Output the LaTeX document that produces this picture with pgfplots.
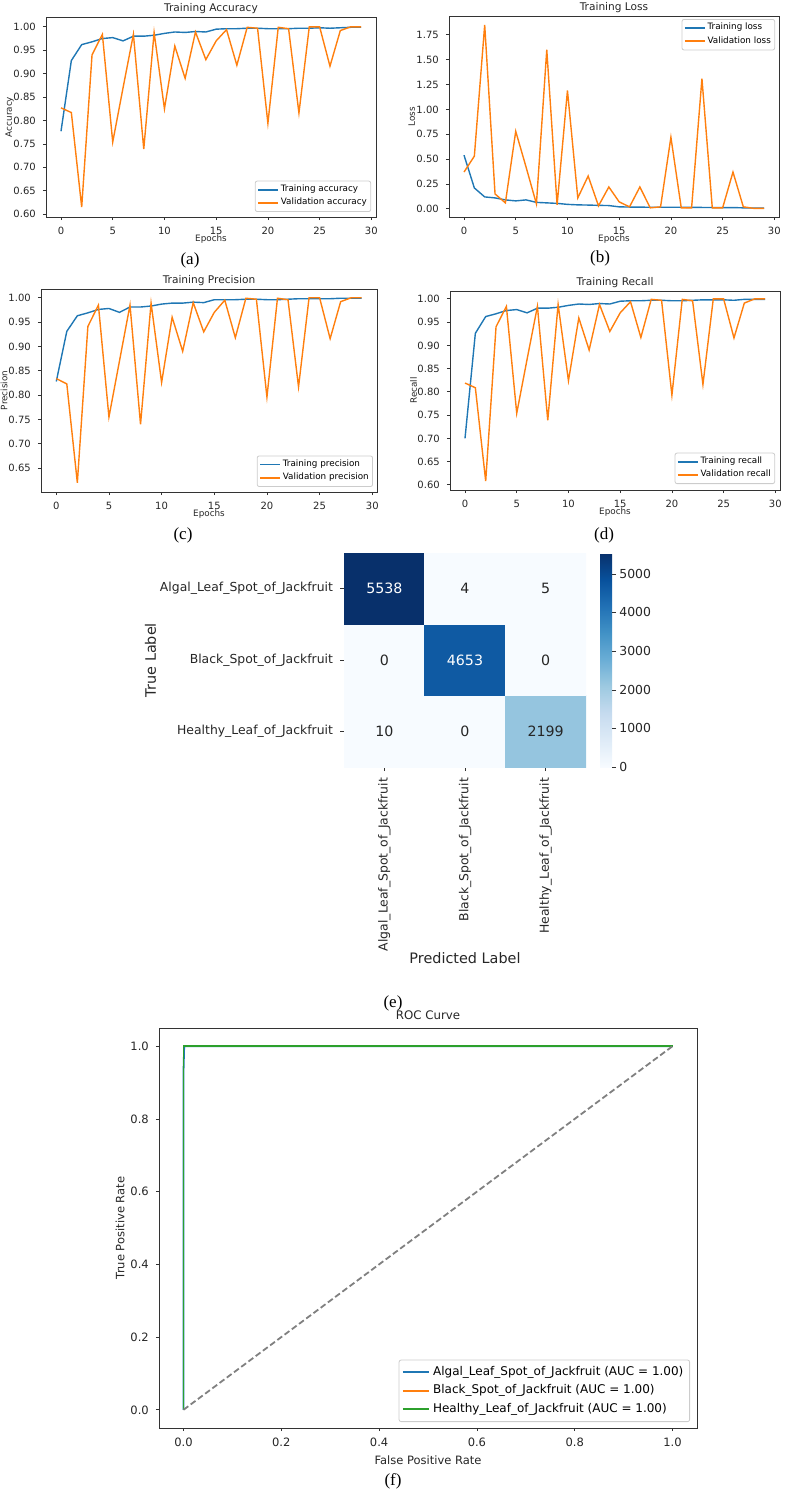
\documentclass[border=0pt]{standalone}
\usepackage{fontspec}
\setmainfont{DejaVu Sans}
\newfontfamily\capfont{Liberation Serif}
\usepackage{pgfplots}
\pgfplotsset{compat=1.18}
\definecolor{mplblue}{HTML}{1F77B4}
\definecolor{mplorange}{HTML}{FF7F0E}
\definecolor{mplgreen}{HTML}{2CA02C}
\definecolor{txt}{HTML}{262626}
\pgfplotsset{
  mpl/.style={scale only axis, clip mode=individual, axis line style={black!80,line width=0.4pt},
    tick style={black!80,line width=0.4pt}, tick align=outside, major tick length=1.6pt,
    xtick pos=left, ytick pos=left, tick label style={text=txt}, label style={text=txt},
    /pgf/number format/assume math mode=true, legend cell align=left},
  sp/.style={mpl, width=165pt, height=100pt, xmin=-1.45, xmax=30.45, xtick={0,5,10,15,20,25,30},
    tick label style={font=\fontsize{5.0}{6}\selectfont},
    label style={font=\fontsize{4.4}{5}\selectfont},
    xlabel style={at={(axis description cs:0.5,0)}, anchor=center, yshift=-11pt},
    ylabel style={at={(axis description cs:-0.11,0.5)}, anchor=center},
    yticklabel style={/pgf/number format/fixed,/pgf/number format/fixed zerofill,/pgf/number format/precision=2},
    legend style={font=\fontsize{4.4}{5}\selectfont, draw=black!20, rounded corners=1pt, inner sep=1pt, row sep=0pt,
      nodes={inner sep=0.9pt}},
    legend image code/.code={\draw[##1, line width=0.9pt] (0pt,0pt) -- (10pt,0pt);},
    every axis plot/.append style={line width=0.7pt}},
}
\newcommand{\sptitle}[1]{\node[font=\fontsize{5.3}{6}\selectfont, text=txt, anchor=center, yshift=4pt] at (rel axis cs:0.5,1) {#1};}
\begin{document}
\begin{tikzpicture}
\useasboundingbox (0,0) rectangle (392pt,-745.5pt);
% (a)
\begin{axis}[sp, at={(23pt,-108.5pt)}, anchor=south west, ymin=0.594, ymax=1.021,
  ytick={0.60,0.65,0.70,0.75,0.80,0.85,0.90,0.95,1.00},
  xlabel={Epochs}, ylabel={Accuracy},
  legend style={at={(0.985,0.025)}, anchor=south east}]
\addplot[mplblue] coordinates {(0,0.777)(1,0.928)(2,0.962)(3,0.968)(4,0.975)(5,0.977)(6,0.970)(7,0.980)(8,0.980)(9,0.982)(10,0.986)(11,0.989)(12,0.988)(13,0.990)(14,0.989)(15,0.995)(16,0.996)(17,0.996)(18,0.997)(19,0.997)(20,0.996)(21,0.996)(22,0.996)(23,0.997)(24,0.997)(25,0.998)(26,0.997)(27,0.998)(28,0.999)(29,0.999)};
\addlegendentry{Training accuracy}
\addplot[mplorange] coordinates {(0,0.827)(1,0.817)(2,0.615)(3,0.940)(4,0.984)(5,0.754)(6,0.870)(7,0.984)(8,0.739)(9,0.988)(10,0.825)(11,0.959)(12,0.890)(13,0.989)(14,0.930)(15,0.970)(16,0.994)(17,0.918)(18,0.999)(19,0.997)(20,0.794)(21,0.999)(22,0.996)(23,0.816)(24,1.000)(25,1.000)(26,0.916)(27,0.992)(28,1.000)(29,1.000)};
\addlegendentry{Validation accuracy}
\sptitle{Training Accuracy}
\end{axis}
% (b)
\begin{axis}[sp, at={(224.5pt,-108.5pt)}, anchor=south west, height=100.5pt, ymin=-0.082, ymax=1.94,
  ytick={0,0.25,0.5,0.75,1,1.25,1.5,1.75},
  xlabel={Epochs}, ylabel={Loss},
  ylabel style={at={(axis description cs:-0.113,0.5)}},
  legend style={at={(0.988,0.985)}, anchor=north east}]
\addplot[mplblue] coordinates {(0,0.54)(1,0.21)(2,0.12)(3,0.11)(4,0.09)(5,0.08)(6,0.09)(7,0.065)(8,0.06)(9,0.055)(10,0.045)(11,0.04)(12,0.038)(13,0.035)(14,0.033)(15,0.02)(16,0.018)(17,0.017)(18,0.016)(19,0.016)(20,0.016)(21,0.016)(22,0.015)(23,0.014)(24,0.013)(25,0.012)(26,0.013)(27,0.01)(28,0.008)(29,0.007)};
\addlegendentry{Training loss}
\addplot[mplorange] coordinates {(0,0.37)(1,0.53)(2,1.85)(3,0.15)(4,0.06)(5,0.78)(6,0.42)(7,0.05)(8,1.60)(9,0.04)(10,1.19)(11,0.11)(12,0.33)(13,0.03)(14,0.22)(15,0.07)(16,0.02)(17,0.22)(18,0.01)(19,0.02)(20,0.72)(21,0.01)(22,0.01)(23,1.31)(24,0.01)(25,0.01)(26,0.37)(27,0.02)(28,0.005)(29,0.005)};
\addlegendentry{Validation loss}
\sptitle{Training Loss}
\end{axis}
% (c)
\begin{axis}[sp, at={(20.5pt,-246pt)}, anchor=south west, width=168pt, height=101.5pt, ymin=0.601, ymax=1.018,
  ytick={0.65,0.70,0.75,0.80,0.85,0.90,0.95,1.00},
  xlabel={Epochs}, ylabel={Precision},
  legend style={at={(0.988,0.025)}, anchor=south east}]
\addplot[mplblue] coordinates {(0,0.828)(1,0.931)(2,0.963)(3,0.969)(4,0.976)(5,0.978)(6,0.970)(7,0.981)(8,0.981)(9,0.983)(10,0.987)(11,0.989)(12,0.989)(13,0.991)(14,0.990)(15,0.996)(16,0.996)(17,0.996)(18,0.997)(19,0.997)(20,0.996)(21,0.996)(22,0.997)(23,0.998)(24,0.998)(25,0.998)(26,0.998)(27,0.999)(28,0.999)(29,0.999)};
\addlegendentry{Training precision}
\addplot[mplorange] coordinates {(0,0.834)(1,0.823)(2,0.620)(3,0.941)(4,0.985)(5,0.755)(6,0.870)(7,0.985)(8,0.740)(9,0.989)(10,0.826)(11,0.960)(12,0.890)(13,0.990)(14,0.930)(15,0.970)(16,0.995)(17,0.918)(18,0.999)(19,0.997)(20,0.796)(21,0.999)(22,0.996)(23,0.817)(24,1.000)(25,1.000)(26,0.916)(27,0.992)(28,1.000)(29,1.000)};
\addlegendentry{Validation precision}
\sptitle{Training Precision}
\end{axis}
% (d)
\begin{axis}[sp, at={(225pt,-245pt)}, anchor=south west, height=99.5pt, ymin=0.589, ymax=1.017,
  ytick={0.60,0.65,0.70,0.75,0.80,0.85,0.90,0.95,1.00},
  xlabel={Epochs}, ylabel={Recall},
  legend style={at={(0.985,0.03)}, anchor=south east}]
\addplot[mplblue] coordinates {(0,0.700)(1,0.926)(2,0.962)(3,0.968)(4,0.975)(5,0.977)(6,0.970)(7,0.980)(8,0.980)(9,0.982)(10,0.986)(11,0.989)(12,0.988)(13,0.990)(14,0.989)(15,0.995)(16,0.996)(17,0.996)(18,0.997)(19,0.997)(20,0.996)(21,0.996)(22,0.997)(23,0.998)(24,0.998)(25,0.998)(26,0.997)(27,0.999)(28,0.999)(29,0.999)};
\addlegendentry{Training recall}
\addplot[mplorange] coordinates {(0,0.819)(1,0.809)(2,0.608)(3,0.940)(4,0.984)(5,0.754)(6,0.870)(7,0.984)(8,0.739)(9,0.988)(10,0.824)(11,0.959)(12,0.890)(13,0.988)(14,0.930)(15,0.970)(16,0.994)(17,0.917)(18,0.999)(19,0.997)(20,0.793)(21,0.999)(22,0.996)(23,0.816)(24,1.000)(25,1.000)(26,0.916)(27,0.991)(28,1.000)(29,1.000)};
\addlegendentry{Validation recall}
\sptitle{Training Recall}
\end{axis}
% (e) confusion matrix
\begin{axis}[mpl, at={(172pt,-383.5pt)}, anchor=south west, width=121pt, height=107pt,
  xmin=-0.5, xmax=2.5, ymin=-0.5, ymax=2.5, axis line style={draw=none},
  major tick length=2pt,
  xtick={0,1,2}, ytick={0,1,2},
  xticklabels={Algal\_Leaf\_Spot\_of\_Jackfruit, Black\_Spot\_of\_Jackfruit, Healthy\_Leaf\_of\_Jackfruit},
  yticklabels={Healthy\_Leaf\_of\_Jackfruit, Black\_Spot\_of\_Jackfruit, Algal\_Leaf\_Spot\_of\_Jackfruit},
  xticklabel style={rotate=90, anchor=east},
  tick label style={font=\fontsize{6.2}{7}\selectfont},
  xlabel={Predicted Label}, ylabel={True Label},
  label style={font=\fontsize{7.2}{8}\selectfont},
  xlabel style={at={(axis description cs:0.5,-0.892)}, anchor=center},
  ylabel style={at={(axis description cs:-0.80,0.5)}, anchor=center},
  colormap={blues}{rgb255=(247,251,255) rgb255=(222,235,247) rgb255=(198,219,239) rgb255=(158,202,225) rgb255=(107,174,214) rgb255=(66,146,198) rgb255=(33,113,181) rgb255=(8,81,156) rgb255=(8,48,107)},
  point meta min=0, point meta max=5538,
  colorbar,
  colorbar style={width=6pt, at={(parent axis.north east)}, anchor=north west, xshift=-1.5pt,
    axis line style={draw=none}, ytick={0,1000,2000,3000,4000,5000}, tick align=outside,
    major tick length=2pt, tick style={black!80}, ytick pos=right, yticklabel pos=right,
    scaled y ticks=false,
    yticklabel style={font=\fontsize{6.2}{7}\selectfont, text=txt, inner sep=1.5pt, /pgf/number format/1000 sep={}, /pgf/number format/assume math mode=true}}]
\addplot[matrix plot*, mesh/cols=3, point meta=explicit] table[meta=c] {
x y c
0 0 10
1 0 0
2 0 2199
0 1 0
1 1 4653
2 1 0
0 2 5538
1 2 4
2 2 5
};
\addplot[draw=none, mark=none, nodes near coords, point meta=explicit symbolic, nodes near coords align=center,
  every node near coord/.append style={font=\fontsize{7.1}{8}\selectfont, text=white}] table[meta=lab] {
x y lab
0 2 5538
1 1 4653
};
\addplot[draw=none, mark=none, nodes near coords, point meta=explicit symbolic, nodes near coords align=center,
  every node near coord/.append style={font=\fontsize{7.1}{8}\selectfont, text=txt}] table[meta=lab] {
x y lab
1 2 4
2 2 5
0 1 0
2 1 0
0 0 10
1 0 0
2 0 2199
};
\end{axis}
% (f) ROC
\begin{axis}[mpl, at={(79.5pt,-714pt)}, anchor=south west, width=269pt, height=200pt,
  xmin=-0.05, xmax=1.05, ymin=-0.05, ymax=1.05,
  xtick={0,0.2,0.4,0.6,0.8,1}, ytick={0,0.2,0.4,0.6,0.8,1},
  tick label style={font=\fontsize{5.75}{6.5}\selectfont, /pgf/number format/fixed, /pgf/number format/fixed zerofill, /pgf/number format/precision=1},
  xlabel={False Positive Rate}, ylabel={True Positive Rate},
  label style={font=\fontsize{5.75}{6.5}\selectfont},
  xlabel style={at={(axis description cs:0.5,0)}, anchor=center, yshift=-16pt},
  ylabel style={at={(axis description cs:-0.0725,0.5)}, anchor=center},
  legend style={at={(0.987,0.015)}, anchor=south east, font=\fontsize{6}{7.2}\selectfont, draw=black!20, rounded corners=1pt, inner sep=1.5pt,
    nodes={inner sep=1.6pt}},
  legend image code/.code={\draw[#1] (0pt,0pt) -- (13pt,0pt);},
  every axis plot/.append style={line width=0.9pt}]
\addplot[mplblue] coordinates {(0,0) (0,0.925) (0.0015,1) (1,1)};
\addlegendentry{Algal\_Leaf\_Spot\_of\_Jackfruit (AUC = 1.00)}
\addplot[mplorange] coordinates {(0,0) (0,1) (1,1)};
\addlegendentry{Black\_Spot\_of\_Jackfruit (AUC = 1.00)}
\addplot[mplgreen] coordinates {(0,0) (0,1) (1,1)};
\addlegendentry{Healthy\_Leaf\_of\_Jackfruit (AUC = 1.00)}
\addplot[gray, dashed, dash pattern=on 3pt off 1.5pt, forget plot] coordinates {(0,0) (1,1)};
\node[font=\fontsize{5.9}{7}\selectfont, text=txt, anchor=center, yshift=6.5pt] at (rel axis cs:0.5,1) {ROC Curve};
\end{axis}
% captions
\node[font=\capfont\fontsize{8.5}{10}\selectfont] at (95pt,-130pt) {(a)};
\node[font=\capfont\fontsize{8.5}{10}\selectfont] at (300pt,-129pt) {(b)};
\node[font=\capfont\fontsize{8.5}{10}\selectfont] at (91.5pt,-267.5pt) {(c)};
\node[font=\capfont\fontsize{8.5}{10}\selectfont] at (302pt,-267.5pt) {(d)};
\node[font=\capfont\fontsize{8.5}{10}\selectfont] at (196.5pt,-501.5pt) {(e)};
\node[font=\capfont\fontsize{8.5}{10}\selectfont] at (196.5pt,-740.5pt) {(f)};
\end{tikzpicture}
\end{document}
